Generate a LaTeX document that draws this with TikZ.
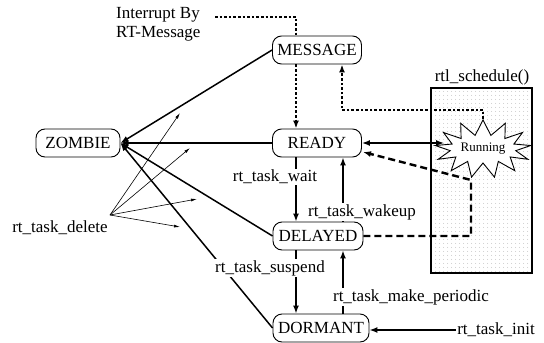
\documentclass[tikz,border=0pt]{standalone}
\usepackage{fontspec}
\setmainfont{Liberation Serif}
\usetikzlibrary{arrows.meta,shapes.symbols,patterns.meta}
\begin{document}
\begin{tikzpicture}[x=1pt,y=-1pt,
  state/.style={draw, line width=0.9pt, rounded corners=9pt, minimum height=28pt, minimum width=89pt, inner xsep=3pt, font=\rmfamily\fontsize{17}{19}\selectfont},
  lbl/.style={fill=white, inner sep=1pt, font=\rmfamily\fontsize{17}{19}\selectfont},
  thk/.style={line width=1.5pt, -{Latex[length=8pt,width=6pt]}},
  thn/.style={line width=0.6pt, -{Latex[length=6pt,width=3pt]}},
  dotl/.style={line width=2.6pt, dash pattern=on 2.6pt off 2pt},
  dashl/.style={line width=2.4pt, dash pattern=on 7pt off 4pt},
]
\useasboundingbox (0,0) rectangle (544,343);

% scheduler box
\node[draw, line width=1.3pt, minimum width=101pt, minimum height=185pt, inner sep=0pt, pattern={Dots[distance=4pt,radius=0.55pt]}, pattern color=gray!60] (sched) at (481.5,180.5) {};
\node[font=\rmfamily\fontsize{17}{19}\selectfont, inner sep=1pt] (schedlbl) at (482,77) {rtl\_schedule()};

% states
\node[state, minimum width=84pt] (zombie) at (78,143) {ZOMBIE};
\node[state] (msg) at (317,50) {MESSAGE};
\node[state] (ready) at (317,143) {READY};
\node[state, minimum width=90pt] (delayed) at (318,236) {DELAYED};
\node[state, minimum width=96pt] (dormant) at (321,328) {DORMANT};
\node[starburst, draw, line width=0.9pt, fill=white, starburst points=13, starburst point height=15pt, random starburst=0, minimum width=96pt, minimum height=58pt, inner sep=0pt, font=\rmfamily\fontsize{13}{15}\selectfont] (run) at (483,149) {Running};

% helper coordinates
\coordinate (ib) at (215,17);
\coordinate (xl) at (296,0);
\coordinate (xr) at (343,0);
\coordinate (rm) at (342,110);
\coordinate (dk) at (471,180);
\coordinate (rse) at (363,152);
\coordinate (hub) at (110,215);
\coordinate (t1) at (180,113);
\coordinate (t2) at (190,148);
\coordinate (t3) at (197,199);
\coordinate (t4) at (180,227);

% dotted / dashed connectors
\draw[dotl] (ib) -| (msg.north -| xl);
\draw[dotl, -{Latex[length=8pt,width=6pt]}] (msg.south -| xl) -- (ready.north -| xl);
\draw[dotl, -{Latex[length=8pt,width=6pt]}] (run.north) |- (rm) -- (msg.south -| rm);
\draw[dashl, -{Latex[length=8pt,width=6pt]}] (delayed.east) -| (dk) -- (rse);

% solid connectors
\draw[line width=1.5pt, {Latex[length=8pt,width=6pt]}-{Latex[length=8pt,width=6pt]}] (ready.east) -- (ready.east -| run.west);
\draw[thk] (ready.south -| xl) -- (delayed.north -| xl);
\draw[thk] (delayed.north -| xr) -- (ready.south -| xr);
\draw[thk] (delayed.south -| xl) -- (dormant.north -| xl);
\draw[thk] (dormant.north -| xr) -- (delayed.south -| xr);

\draw[thk] (msg.west) -- (zombie.east);
\draw[thk] (ready.west) -- (zombie.east);
\draw[thk] (delayed.west) -- (zombie.east);
\draw[thk] (dormant.west) -- (zombie.east);

\foreach \t in {t1,t2,t3,t4} \draw[thn] (hub) -- (\t);

% labels
\node[anchor=west, align=left, inner sep=0pt, font=\rmfamily\fontsize{17}{19}\selectfont] (intr) at (116,24) {Interrupt By\\RT-Message};
\node[lbl] (lwait) at (275,177) {rt\_task\_wait};
\node[lbl] (lwake) at (362,212) {rt\_task\_wakeup};
\node[lbl] (lsusp) at (270,268) {rt\_task\_suspend};
\node[lbl] (lper) at (411,297) {rt\_task\_make\_periodic};
\node[lbl] (ldel) at (60,228) {rt\_task\_delete};
\node[lbl] (linit) at (496,330) {rt\_task\_init};
\draw[thk] (linit.west) -- (linit.west -| dormant.east);
\end{tikzpicture}
\end{document}
